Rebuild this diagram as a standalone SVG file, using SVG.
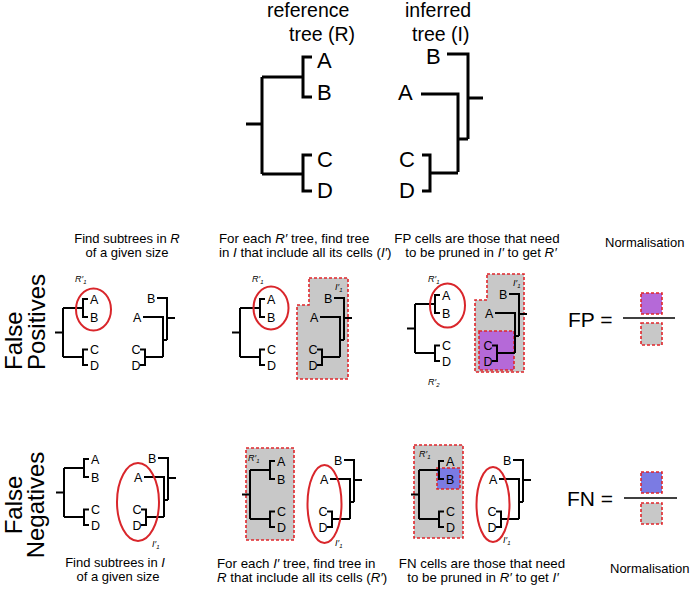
<svg xmlns="http://www.w3.org/2000/svg" width="691" height="589" viewBox="0 0 691 589">
<style>
text { font-family: "Liberation Sans", Arial, sans-serif; fill: #000; }
.big { font-size: 19.5px; }
.lab { font-size: 22px; }
.sl { font-size: 12.5px; }
.body { font-size: 13.3px; }
.b13 { font-size: 13px; }
.it { font-style: italic; }
.side { font-size: 24px; }
.frac { font-size: 21px; }
.sub { font-size: 9px; font-style: italic; }
.tree { fill: none; stroke: #000; stroke-width: 3; }
.stree { fill: none; stroke: #000; stroke-width: 2; }
.sel { fill: none; stroke: #d9262b; stroke-width: 2; }
.dash { stroke: #e0262b; stroke-width: 1.6; stroke-dasharray: 3 2; }
.grey { fill: #c8c8c8; }
.purple { fill: #b569d8; }
.blue { fill: #7b7be3; }
.rule { stroke: #000; stroke-width: 1.6; }
</style>
<rect width="691" height="589" fill="#fff"/>

<!-- Top trees -->
<g id="top-reference">
  <text class="big" x="267" y="17">reference</text>
  <text class="big" x="289" y="41">tree (R)</text>
  <path class="tree" d="M246 124H262M262 77V174M262 77H303M262 174H303M312 57H303V97H312M312 155H303V191H312"/>
  <text class="lab" x="317" y="68">A</text>
  <text class="lab" x="317" y="100">B</text>
  <text class="lab" x="317" y="167">C</text>
  <text class="lab" x="317" y="198">D</text>
</g>
<g id="top-inferred">
  <text class="big" x="405" y="17">inferred</text>
  <text class="big" x="412" y="41">tree (I)</text>
  <path class="tree" d="M447 54H468V139M468 98H483M421 94H458V172M458 139H468M422 155H430V191H422M430 173H458"/>
  <text class="lab" x="426" y="64">B</text>
  <text class="lab" x="398" y="100">A</text>
  <text class="lab" x="399" y="167">C</text>
  <text class="lab" x="399" y="198">D</text>
</g>

<!-- Row labels -->
<g id="row-fp-label">
  <text class="side" transform="translate(22,370) rotate(-90)">False</text>
  <text class="side" transform="translate(45,370) rotate(-90)">Positives</text>
</g>
<g id="row-fn-label">
  <text class="side" text-anchor="middle" transform="translate(22,505) rotate(-90)">False</text>
  <text class="side" text-anchor="middle" transform="translate(44,505) rotate(-90)">Negatives</text>
</g>

<!-- FP panel 1 -->
<g id="fp1">
  <text class="b13" text-anchor="middle" x="127" y="243">Find subtrees in  <tspan class="it">R</tspan></text>
  <text class="b13" text-anchor="middle" x="127" y="257">of a given size</text>
  <g transform="translate(0,0)">
    <path class="stree" d="M55 332.5H63M63 308V357M63 308H83M63 357H83M88 299H83V317H88M88 349.5H83V365H88"/>
    <text class="sl" x="90" y="303.5">A</text><text class="sl" x="90" y="321.5">B</text>
    <text class="sl" x="90" y="354">C</text><text class="sl" x="90" y="369.5">D</text>
    <path class="stree" d="M157 298H167V340M167 318H175M143 317H163V357M163 340H167M140 349.5H145V365H140M145 357H163"/>
    <text class="sl" x="147" y="302.5">B</text><text class="sl" x="133" y="321.5">A</text>
    <text class="sl" x="131.5" y="354">C</text><text class="sl" x="131.5" y="369.5">D</text>
  </g>
  <ellipse class="sel" cx="93.5" cy="309.5" rx="17.5" ry="21"/>
  <text class="sub" x="75" y="282">R′<tspan font-size="6" dy="2">1</tspan></text>
</g>

<!-- FP panel 2 -->
<g id="fp2">
  <text class="body" x="219" y="243">For each  <tspan class="it">R′</tspan> tree, find tree</text>
  <text class="body" x="219" y="257">in <tspan class="it">I</tspan> that include all its cells (<tspan class="it">I′</tspan>)</text>
  <path class="grey dash" d="M309 278H348V379H297V305H309Z"/>
  <g transform="translate(177,0)">
    <path class="stree" d="M55 332.5H63M63 308V357M63 308H83M63 357H83M88 299H83V317H88M88 349.5H83V365H88"/>
    <text class="sl" x="90" y="303.5">A</text><text class="sl" x="90" y="321.5">B</text>
    <text class="sl" x="90" y="354">C</text><text class="sl" x="90" y="369.5">D</text>
    <path class="stree" d="M157 298H167V340M167 318H175M143 317H163V357M163 340H167M140 349.5H145V365H140M145 357H163"/>
    <text class="sl" x="147" y="302.5">B</text><text class="sl" x="133" y="321.5">A</text>
    <text class="sl" x="131.5" y="354">C</text><text class="sl" x="131.5" y="369.5">D</text>
  </g>
  <ellipse class="sel" cx="271" cy="308" rx="17.5" ry="21.5"/>
  <text class="sub" x="252" y="282">R′<tspan font-size="6" dy="2">1</tspan></text>
  <text class="sub" x="335" y="290">I′<tspan font-size="6" dy="2">1</tspan></text>
</g>

<!-- FP panel 3 -->
<g id="fp3">
  <text class="body" text-anchor="middle" x="477" y="243">FP cells are those that need</text>
  <text class="body" text-anchor="middle" x="481" y="257">to be pruned in <tspan class="it">I′</tspan>  to get <tspan class="it">R′</tspan></text>
  <path class="grey dash" d="M487 274H524V372H475V300H487Z"/>
  <rect class="purple dash" x="479" y="331" width="35" height="39"/>
  <g transform="translate(352,-4)">
    <path class="stree" d="M55 332.5H63M63 308V357M63 308H83M63 357H83M88 299H83V317H88M88 349.5H83V365H88"/>
    <text class="sl" x="90" y="303.5">A</text><text class="sl" x="90" y="321.5">B</text>
    <text class="sl" x="90" y="354">C</text><text class="sl" x="90" y="369.5">D</text>
    <path class="stree" d="M157 298H167V340M167 318H175M143 317H163V357M163 340H167M140 349.5H145V365H140M145 357H163"/>
    <text class="sl" x="147" y="302.5">B</text><text class="sl" x="133" y="321.5">A</text>
    <text class="sl" x="131.5" y="354">C</text><text class="sl" x="131.5" y="369.5">D</text>
  </g>
  <ellipse class="sel" cx="447.5" cy="305.5" rx="17.5" ry="22"/>
  <text class="sub" x="428" y="282">R′<tspan font-size="6" dy="2">1</tspan></text>
  <text class="sub" x="428" y="385">R′<tspan font-size="6" dy="2">2</tspan></text>
  <text class="sub" x="513" y="286">I′<tspan font-size="6" dy="2">1</tspan></text>
</g>

<!-- FP normalisation -->
<g id="fp-norm">
  <text class="b13" x="605" y="247">Normalisation</text>
  <text class="frac" x="568" y="327">FP =</text>
  <path class="rule" d="M623 318H675"/>
  <rect class="purple dash" x="641" y="293" width="21" height="21"/>
  <rect class="grey dash" x="641" y="323" width="21" height="22"/>
</g>

<!-- FN panel 1 -->
<g id="fn1">
  <g transform="translate(1,160)">
    <path class="stree" d="M55 332.5H63M63 308V357M63 308H83M63 357H83M88 299H83V317H88M88 349.5H83V365H88"/>
    <text class="sl" x="90" y="303.5">A</text><text class="sl" x="90" y="321.5">B</text>
    <text class="sl" x="90" y="354">C</text><text class="sl" x="90" y="369.5">D</text>
    <path class="stree" d="M157 298H167V340M167 318H175M143 317H163V357M163 340H167M140 349.5H145V365H140M145 357H163"/>
    <text class="sl" x="147" y="302.5">B</text><text class="sl" x="133" y="321.5">A</text>
    <text class="sl" x="131.5" y="354">C</text><text class="sl" x="131.5" y="369.5">D</text>
  </g>
  <ellipse class="sel" cx="138" cy="502" rx="21" ry="39"/>
  <text class="sub" x="152" y="547">I′<tspan font-size="6" dy="2">1</tspan></text>
  <text class="b13" text-anchor="middle" x="115" y="567">Find subtrees in  <tspan class="it">I</tspan></text>
  <text class="b13" text-anchor="middle" x="118" y="581">of a given size</text>
</g>

<!-- FN panel 2 -->
<g id="fn2">
  <rect class="grey dash" x="246" y="448" width="48" height="92"/>
  <g transform="translate(187,162)">
    <path class="stree" d="M55 332.5H63M63 308V357M63 308H83M63 357H83M88 299H83V317H88M88 349.5H83V365H88"/>
    <text class="sl" x="90" y="303.5">A</text><text class="sl" x="90" y="321.5">B</text>
    <text class="sl" x="90" y="354">C</text><text class="sl" x="90" y="369.5">D</text>
    <path class="stree" d="M157 298H167V340M167 318H175M143 317H163V357M163 340H167M140 349.5H145V365H140M145 357H163"/>
    <text class="sl" x="147" y="302.5">B</text><text class="sl" x="133" y="321.5">A</text>
    <text class="sl" x="131.5" y="354">C</text><text class="sl" x="131.5" y="369.5">D</text>
  </g>
  <ellipse class="sel" cx="324.5" cy="504" rx="17" ry="39"/>
  <text class="sub" x="248" y="461">R′<tspan font-size="6" dy="2">1</tspan></text>
  <text class="sub" x="335" y="546">I′<tspan font-size="6" dy="2">1</tspan></text>
  <text class="body" x="217" y="568">For each <tspan class="it">I′</tspan> tree, find tree in</text>
  <text class="body" x="217" y="582"><tspan class="it">R</tspan> that include all its cells (<tspan class="it">R′</tspan>)</text>
</g>

<!-- FN panel 3 -->
<g id="fn3">
  <rect class="grey dash" x="414" y="445" width="49" height="93"/>
  <rect class="blue dash" x="437" y="468" width="23" height="21"/>
  <g transform="translate(356,162)">
    <path class="stree" d="M55 332.5H63M63 308V357M63 308H83M63 357H83M88 299H83V317H88M88 349.5H83V365H88"/>
    <text class="sl" x="90" y="303.5">A</text><text class="sl" x="90" y="321.5">B</text>
    <text class="sl" x="90" y="354">C</text><text class="sl" x="90" y="369.5">D</text>
    <path class="stree" d="M157 298H167V340M167 318H175M143 317H163V357M163 340H167M140 349.5H145V365H140M145 357H163"/>
    <text class="sl" x="147" y="302.5">B</text><text class="sl" x="133" y="321.5">A</text>
    <text class="sl" x="131.5" y="354">C</text><text class="sl" x="131.5" y="369.5">D</text>
  </g>
  <ellipse class="sel" cx="493" cy="504.5" rx="16.5" ry="37.5"/>
  <text class="sub" x="419" y="457">R′<tspan font-size="6" dy="2">1</tspan></text>
  <text class="sub" x="503" y="543">I′<tspan font-size="6" dy="2">1</tspan></text>
  <text class="body" text-anchor="middle" x="482" y="568">FN cells are those that need</text>
  <text class="body" text-anchor="middle" x="483" y="582">to be pruned in <tspan class="it">R′</tspan> to get <tspan class="it">I′</tspan></text>
</g>

<!-- FN normalisation -->
<g id="fn-norm">
  <text class="frac" x="567" y="506">FN =</text>
  <path class="rule" d="M624 498H677"/>
  <rect class="blue dash" x="641" y="472" width="21" height="21"/>
  <rect class="grey dash" x="641" y="503" width="21" height="21"/>
  <text class="b13" x="610" y="573">Normalisation</text>
</g>
</svg>
